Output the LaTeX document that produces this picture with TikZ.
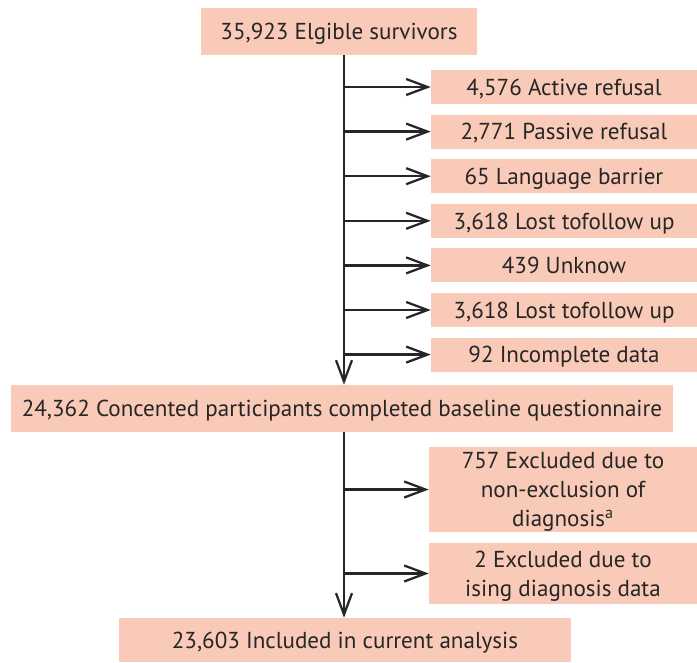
\documentclass[tikz,border=0pt]{standalone}
\usepackage{fontspec}
\setmainfont{PT Sans}
\usetikzlibrary{arrows.meta, positioning, calc}
\definecolor{boxfill}{HTML}{F9CAB8}
\definecolor{ink}{HTML}{262626}

\begin{document}
\begin{tikzpicture}[x=0.75pt, y=-0.75pt,
  box/.style={fill=boxfill, text=ink, inner sep=0pt, align=center, text depth=0pt,
    font=\fontsize{17.3}{21.75}\selectfont},
  sidebox/.style={box, minimum width=199.5pt, minimum height=25.5pt},
  flow/.style={draw=ink, line width=1.7pt, -{Straight Barb[length=16pt, width=12pt]}}]
\useasboundingbox (0,0) rectangle (697,662);
\coordinate (trunk) at (344,0);
\node[box, minimum width=207pt, minimum height=35.25pt] at (339, 31.5) (elig) {35,923 Elgible survivors};
\node[sidebox] at (564, 87) (refA) {4,576 Active refusal};
\node[sidebox] at (564, 131.6) (refP) {2,771 Passive refusal};
\node[sidebox] at (564, 176.2) (lang) {65 Language barrier};
\node[sidebox] at (564, 220.8) (lostA) {3,618 Lost tofollow up};
\node[sidebox] at (564, 265.4) (unk) {439 Unknow};
\node[sidebox] at (564, 310) (lostB) {3,618 Lost tofollow up};
\node[sidebox] at (564, 354.6) (incomp) {92 Incomplete data};
\node[box, minimum width=496.5pt, minimum height=35.25pt] at (342, 408.5) (conc) {24,362 Concented participants completed baseline questionnaire};
\node[box, minimum width=201pt, minimum height=63.75pt] at (563, 489.5) (excA) {757 Excluded due to\\non-exclusion of\\diagnosis\textsuperscript{a}};
\node[box, minimum width=201pt, minimum height=45.75pt] at (563, 573.5) (excB) {2 Excluded due to\\ising diagnosis data};
\node[box, minimum width=339pt, minimum height=33pt] at (345, 640) (incl) {23,603 Included in current analysis};
% main stream
\draw[flow] (trunk |- elig.south) -- (trunk |- conc.north);
\draw[flow] (trunk |- conc.south) -- (trunk |- incl.north);
% exclusions
\draw[flow] (trunk |- refA) -- (refA.west);
\draw[flow] (trunk |- refP) -- (refP.west);
\draw[flow] (trunk |- lang) -- (lang.west);
\draw[flow] (trunk |- lostA) -- (lostA.west);
\draw[flow] (trunk |- unk) -- (unk.west);
\draw[flow] (trunk |- lostB) -- (lostB.west);
\draw[flow] (trunk |- incomp) -- (incomp.west);
\draw[flow] (trunk |- excA) -- (excA.west);
\draw[flow] (trunk |- excB) -- (excB.west);
\end{tikzpicture}
\end{document}
